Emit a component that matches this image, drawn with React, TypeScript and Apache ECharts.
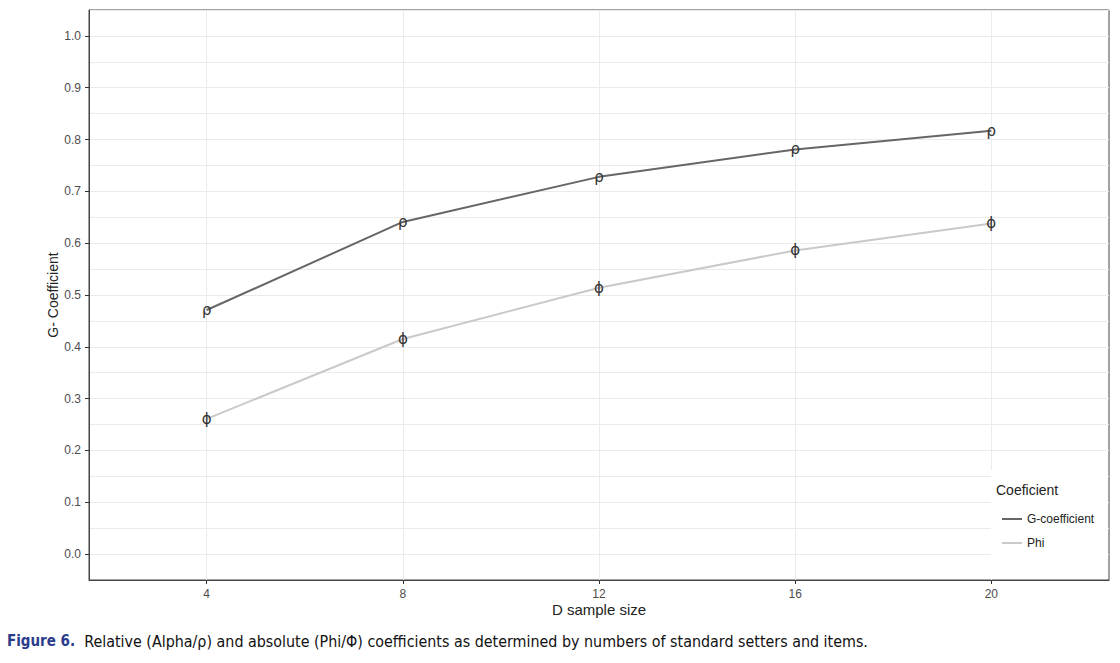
import React, { useEffect, useRef } from "react";
import * as echarts from "echarts";

const sampleSizes = [4, 8, 12, 16, 20];
const gCoefficient = [0.471, 0.641, 0.728, 0.781, 0.817];
const phi = [0.261, 0.415, 0.514, 0.586, 0.638];
const yTicks = [0, 0.1, 0.2, 0.3, 0.4, 0.5, 0.6, 0.7, 0.8, 0.9, 1.0];
const seriesNames = ["G-coefficient", "Phi"];
const seriesColors = ["#666666", "#c9c9c9"];

export default function App() {
  const ref = useRef<HTMLDivElement>(null);
  useEffect(() => {
    if (!ref.current) return;
    const chart = echarts.init(ref.current, null, { renderer: "svg" });
    const labelFont = "Liberation Sans, Arial, sans-serif";
    const mkSeries = (name: string, vals: number[], color: string, glyph: string) => ({
      name,
      type: "line",
      data: sampleSizes.map((x, i) => [x, vals[i]]),
      xAxisIndex: 0,
      yAxisIndex: 0,
      symbol: "circle",
      symbolSize: 1,
      itemStyle: { color: "rgba(0,0,0,0)" },
      lineStyle: { color, width: 2 },
      label: {
        show: true,
        position: "inside",
        formatter: glyph,
        color: "#333",
        fontSize: 15,
        fontFamily: "DejaVu Sans",
      },
      z: 3,
    });
    chart.setOption({
      animation: false,
      backgroundColor: "#fff",
      grid: {
        left: 89,
        top: 10,
        right: 11,
        bottom: 83,
        show: true,
        borderColor: "#444",
        borderWidth: 1,
        backgroundColor: "transparent",
      },
      xAxis: [
        {
          type: "value",
          min: 1.6,
          max: 22.4,
          name: "D sample size",
          nameLocation: "middle",
          nameGap: 29,
          nameMoveOverlap: false,
          nameTextStyle: { fontSize: 15, color: "#222", fontFamily: labelFont, verticalAlign: "middle" },
          axisLine: { show: true, onZero: false, lineStyle: { color: "#444" } },
          axisTick: { show: true, length: 4, customValues: sampleSizes, lineStyle: { color: "#333" } },
          axisLabel: {
            customValues: sampleSizes,
            color: "#4d4d4d",
            fontSize: 12,
            margin: 8,
            fontFamily: labelFont,
          },
          splitLine: { show: true, lineStyle: { color: "#ebebeb", width: 1 } },
        },
      ],
      yAxis: [
        {
          type: "value",
          min: -0.05,
          max: 1.05,
          interval: 0.05,
          axisLine: { show: false },
          axisTick: { show: false },
          axisLabel: { show: false },
          splitLine: { show: true, lineStyle: { color: "#ebebeb", width: 1 } },
        },
        {
          type: "value",
          min: -0.05,
          max: 1.05,
          position: "left",
          name: "G- Coefficient",
          nameLocation: "middle",
          nameGap: 36,
          nameMoveOverlap: false,
          nameTextStyle: { fontSize: 14, color: "#222", fontFamily: labelFont, verticalAlign: "middle" },
          axisLine: { show: true, onZero: false, lineStyle: { color: "#444" } },
          axisTick: { show: true, length: 4, customValues: yTicks, lineStyle: { color: "#333" } },
          axisLabel: {
            customValues: yTicks,
            color: "#4d4d4d",
            fontSize: 12,
            margin: 8,
            fontFamily: labelFont,
            formatter: (v: number) => v.toFixed(1),
          },
          splitLine: { show: false },
        },
      ],
      legend: {
        orient: "vertical",
        left: 997,
        top: 508,
        icon: "rect",
        itemWidth: 20,
        itemHeight: 2,
        itemGap: 12,
        data: seriesNames.map((n, i) => ({ name: n, itemStyle: { color: seriesColors[i] } })),
        textStyle: { fontSize: 12, color: "#222", fontFamily: labelFont },
      },
      graphic: [
        {
          type: "rect",
          z: 1,
          shape: { x: 991, y: 470, width: 117, height: 109 },
          style: { fill: "#fff" },
        },
        {
          type: "text",
          z: 5,
          left: 996,
          top: 483,
          style: { text: "Coeficient", fontSize: 14, fill: "#222", fontFamily: labelFont },
        },
        {
          type: "text",
          z: 5,
          left: 7,
          top: 633,
          style: {
            text: "{b|Figure 6.}  Relative (Alpha/ρ) and absolute (Phi/Φ) coefficients as determined by numbers of standard setters and items.",
            fontSize: 15.9,
            fill: "#111",
            fontFamily: "'Liberation Sans Narrow', 'DejaVu Sans Condensed', sans-serif",
            rich: {
              b: {
                fontSize: 15,
                fill: "#2b3c8c",
                fontWeight: "bold",
                fontFamily: "'Liberation Sans Narrow', 'DejaVu Sans Condensed', sans-serif",
              },
            },
          },
        },
      ],
      series: [
        mkSeries(seriesNames[0], gCoefficient, seriesColors[0], "ρ"),
        mkSeries(seriesNames[1], phi, seriesColors[1], "ϕ"),
      ],
    });
    return () => chart.dispose();
  }, []);
  return (
    <div
      ref={ref}
      style={{ position: "fixed", left: 0, top: 0, width: 1120, height: 663 }}
    />
  );
}
